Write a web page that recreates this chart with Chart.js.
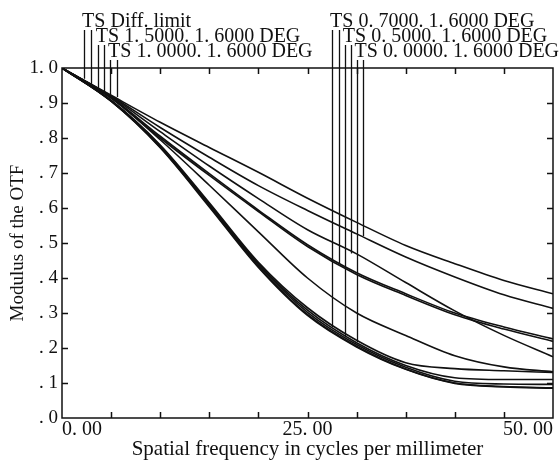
<!DOCTYPE html>
<html>
<head>
<meta charset="utf-8">
<script src="https://cdn.jsdelivr.net/npm/chart.js@4.4.1/dist/chart.umd.min.js"></script>
<style>
  html, body { margin: 0; padding: 0; background: #fff; }
  #wrap { width: 560px; height: 463px; }
</style>
</head>
<body>
<div id="wrap"><canvas id="otf"></canvas></div>
<script>
// spatial frequency, cycles/mm
const freq = [0, 5, 10, 15, 20, 25, 30, 35, 40, 45, 50];

// modulus of the OTF
const diffLimit = [1, 0.922, 0.845, 0.773, 0.702, 0.628, 0.559, 0.493, 0.441, 0.393, 0.355];
const curveB    = [1, 0.920, 0.830, 0.745, 0.664, 0.593, 0.526, 0.460, 0.403, 0.352, 0.313];
const curveC    = [1, 0.918, 0.818, 0.720, 0.627, 0.538, 0.469, 0.387, 0.306, 0.236, 0.175];
const curveD1   = [1, 0.916, 0.805, 0.698, 0.594, 0.495, 0.415, 0.355, 0.300, 0.260, 0.226];
const curveD2   = [1, 0.915, 0.800, 0.693, 0.590, 0.490, 0.410, 0.350, 0.295, 0.254, 0.219];
const curveE    = [1, 0.914, 0.795, 0.665, 0.532, 0.400, 0.300, 0.236, 0.178, 0.146, 0.132];
const curveP1   = [1, 0.908, 0.780, 0.615, 0.445, 0.315, 0.222, 0.158, 0.141, 0.135, 0.130];
const curveP2   = [1, 0.907, 0.778, 0.612, 0.441, 0.308, 0.215, 0.150, 0.115, 0.110, 0.110];
const curveP3   = [1, 0.906, 0.776, 0.609, 0.437, 0.302, 0.210, 0.145, 0.105, 0.097, 0.096];
const curveP4   = [1, 0.905, 0.774, 0.606, 0.433, 0.296, 0.205, 0.140, 0.100, 0.090, 0.086];
const curveP5   = [1, 0.905, 0.772, 0.603, 0.430, 0.293, 0.203, 0.139, 0.099, 0.089, 0.085];

const seriesNames = ['Diff. limit', '0.0000 T', '0.0000 S', '0.5000 T', '0.5000 S',
  '0.7000 T', '0.7000 S', '1.0000 T', '1.0000 S', '1.5000 T', '1.5000 S'];
const seriesValues = [diffLimit, curveB, curveC, curveD1, curveD2, curveE,
  curveP1, curveP2, curveP3, curveP4, curveP5];

// tick labels
const xTickValues = [0, 25, 50];
const xTickText = ['0. 00', '25. 00', '50. 00'];
const yTickText = ['. 0', '. 1', '. 2', '. 3', '. 4', '. 5', '. 6', '. 7', '. 8', '. 9', '1. 0'];

// field labels along the top and their leader lines
const topLabels = ['TS Diff. limit', 'TS 1. 5000. 1. 6000 DEG', 'TS 1. 0000. 1. 6000 DEG',
  'TS 0. 7000. 1. 6000 DEG', 'TS 0. 5000. 1. 6000 DEG', 'TS 0. 0000. 1. 6000 DEG'];
const leaderFreq = [2.25, 2.95, 3.65, 4.25, 4.9, 5.6, 27.5, 28.2, 28.8, 29.4, 30.0, 30.7];
const leaderMod  = [0.969, 0.954, 0.940, 0.929, 0.923, 0.917, 0.26, 0.44, 0.231, 0.47, 0.217, 0.52];

const ink = '#111';
const serif = '"Liberation Serif", "DejaVu Serif", serif';

const decor = {
  id: 'decor',
  afterDatasetsDraw(chart) {
    const { ctx, chartArea: a, scales: { x, y } } = chart;
    ctx.save();
    ctx.strokeStyle = ink;
    ctx.lineWidth = 1.5;
    ctx.strokeRect(a.left, a.top, a.right - a.left, a.bottom - a.top);

    // inward tick marks on all four sides
    ctx.beginPath();
    x.ticks.forEach(t => {
      if (t.value <= x.min || t.value >= x.max) return;
      const px = Math.round(x.getPixelForValue(t.value)) + 0.5;
      ctx.moveTo(px, a.bottom); ctx.lineTo(px, a.bottom - 6);
      ctx.moveTo(px, a.top); ctx.lineTo(px, a.top + 6);
    });
    y.ticks.forEach(t => {
      if (t.value <= y.min || t.value >= y.max) return;
      const py = Math.round(y.getPixelForValue(t.value)) + 0.5;
      ctx.moveTo(a.left, py); ctx.lineTo(a.left + 6, py);
      ctx.moveTo(a.right, py); ctx.lineTo(a.right - 6, py);
    });
    ctx.stroke();

    // leaders: two per label, each label on one of three rows
    const rowTop = [30, 45, 60];
    const rowBase = [27, 42, 57];
    ctx.lineWidth = 1.3;
    ctx.beginPath();
    leaderFreq.forEach((f, i) => {
      const row = Math.floor(i / 2) % 3;
      const px = Math.round(x.getPixelForValue(f)) + 0.5;
      ctx.moveTo(px, rowTop[row]);
      ctx.lineTo(px, y.getPixelForValue(leaderMod[i]));
    });
    ctx.stroke();

    ctx.fillStyle = ink;
    ctx.font = '20px ' + serif;
    ctx.textBaseline = 'alphabetic';
    topLabels.forEach((txt, i) => {
      const px = x.getPixelForValue(leaderFreq[i * 2]);
      ctx.fillText(txt, px - 2, rowBase[i % 3]);
    });
    ctx.restore();
  }
};

new Chart(document.getElementById('otf'), {
  type: 'line',
  data: {
    datasets: seriesValues.map((vals, i) => ({
      label: seriesNames[i],
      data: freq.map((f, j) => ({ x: f, y: vals[j] })),
      borderColor: ink,
      borderWidth: 1.6,
      pointRadius: 0,
      fill: false,
      cubicInterpolationMode: 'monotone'
    }))
  },
  options: {
    responsive: true,
    maintainAspectRatio: false,
    animation: false,
    devicePixelRatio: 1,
    layout: { padding: { top: 68, right: 7, left: 0, bottom: 0 } },
    plugins: { legend: { display: false }, tooltip: { enabled: false } },
    scales: {
      x: {
        type: 'linear',
        min: 0,
        max: 50,
        afterFit: s => { s.height = 45; },
        grid: { display: false, drawTicks: false },
        border: { display: false },
        ticks: {
          stepSize: 5,
          autoSkip: false,
          maxRotation: 0,
          align: 'inner',
          padding: 0,
          color: ink,
          font: { family: serif, size: 20 },
          callback: v => {
            const k = xTickValues.indexOf(v);
            return k >= 0 ? xTickText[k] : '';
          }
        },
        title: {
          display: true,
          text: 'Spatial frequency in cycles per millimeter',
          color: ink,
          font: { family: serif, size: 21 },
          padding: { top: 0, bottom: 1 }
        }
      },
      y: {
        min: 0,
        max: 1,
        afterFit: s => { s.width = 62; },
        grid: { display: false, drawTicks: false },
        border: { display: false },
        ticks: {
          stepSize: 0.1,
          autoSkip: false,
          padding: 4,
          color: ink,
          font: { family: serif, size: 19 },
          callback: (v, i) => yTickText[i]
        },
        title: {
          display: true,
          text: 'Modulus of the OTF',
          color: ink,
          font: { family: serif, size: 19 },
          padding: { top: 7, bottom: 0 }
        }
      }
    }
  },
  plugins: [decor]
});
</script>
</body>
</html>
